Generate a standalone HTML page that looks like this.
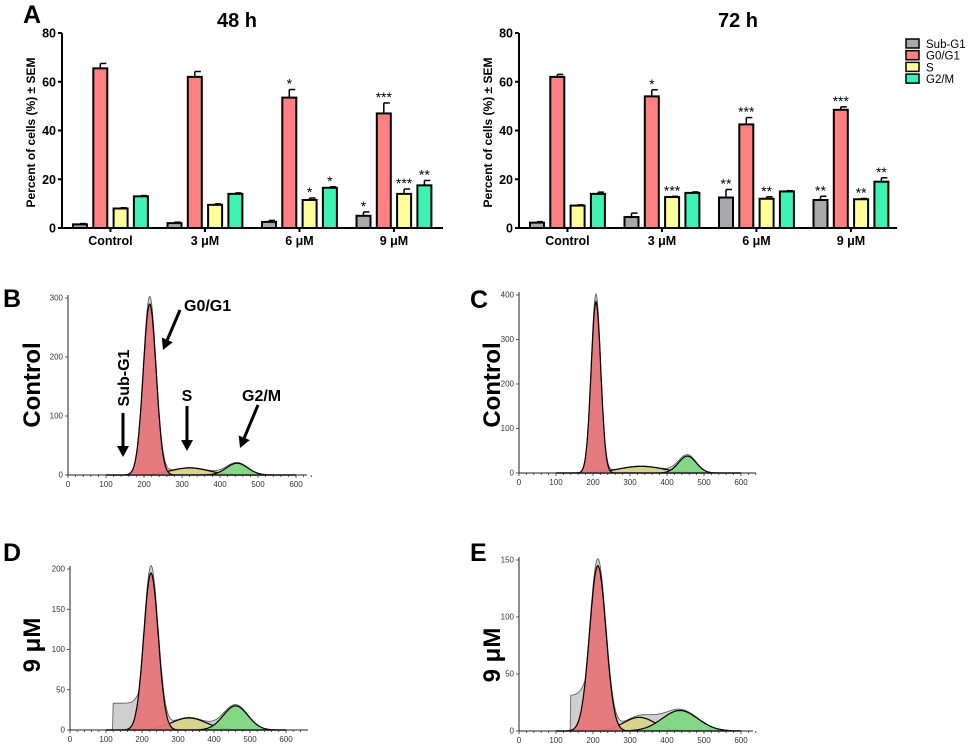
<!DOCTYPE html>
<html><head><meta charset="utf-8"><style>
html,body{margin:0;padding:0;background:#fff}
svg{display:block;font-family:"Liberation Sans",Arial,sans-serif}
</style></head><body>
<svg id="fig" width="969" height="754" viewBox="0 0 969 754">
<g id="root"></g>
</svg>
<script>
// ---------- Bar chart data ----------
const groups = ["Control", "3 μM", "6 μM", "9 μM"];
const phases = ["Sub-G1", "G0/G1", "S", "G2/M"];
const h48SubG1 = [1.5, 2, 2.5, 5];
const h48G0G1 = [65.5, 62, 53.5, 47];
const h48S = [8, 9.5, 11.5, 14];
const h48G2M = [13, 14, 16.5, 17.5];
const h48SubG1Err = [0.3, 0.4, 0.6, 1.6];
const h48G0G1Err = [2, 2.2, 3.3, 4.3];
const h48SErr = [0.3, 0.4, 0.8, 2];
const h48G2MErr = [0.3, 0.4, 0.4, 2];
const h48SubG1Sig = ["", "", "", "*"];
const h48G0G1Sig = ["", "", "*", "***"];
const h48SSig = ["", "", "*", "***"];
const h48G2MSig = ["", "", "*", "**"];
const h72SubG1 = [2.2, 4.5, 12.5, 11.5];
const h72G0G1 = [62, 54, 42.5, 48.5];
const h72S = [9.2, 12.7, 12, 11.8];
const h72G2M = [14, 14.4, 15, 19];
const h72SubG1Err = [0.4, 1.6, 3.3, 1.5];
const h72G0G1Err = [1, 2.7, 2.8, 1.2];
const h72SErr = [0.3, 0.3, 0.8, 0.3];
const h72G2MErr = [0.7, 0.4, 0.3, 1.6];
const h72SubG1Sig = ["", "", "**", "**"];
const h72G0G1Sig = ["", "*", "***", "***"];
const h72SSig = ["", "***", "**", "**"];
const h72G2MSig = ["", "", "", "**"];
const yTicks = [0, 20, 40, 60, 80];

// ---------- Histogram model data (components: center, sd, peak) ----------
const histXTicks = [0, 100, 200, 300, 400, 500, 600];
const bG1 = [215, 17, 290], bS = [320, 50, 12], bG2 = [445, 28, 20];
const cG1 = [208, 13, 385], cS = [330, 60, 15], cG2 = [455, 24, 38];
const dG1 = [225, 20, 195], dS = [330, 48, 15], dG2 = [460, 34, 30];
const eG1 = [213, 22, 145], eS = [325, 42, 12], eG2 = [435, 48, 18];
const bYTicks = [0, 100, 200, 300];
const cYTicks = [0, 100, 200, 300, 400];
const dYTicks = [0, 50, 100, 150, 200];
const eYTicks = [0, 50, 100, 150];
const dSubG1 = [120, 190, 32]; // start, end, level
const eSubG1 = [140, 185, 30];

const NS = "http://www.w3.org/2000/svg";
const root = document.getElementById("root");
function mk(tag, attrs, parent, text) {
  const e = document.createElementNS(NS, tag);
  for (const k in attrs) e.setAttribute(k, attrs[k]);
  if (text !== undefined) e.textContent = text;
  (parent || root).appendChild(e);
  return e;
}
const colors = ["#a9a9ab", "#ff8080", "#ffff99", "#3df2b2"];

function barChart(ox, axisEnd, title, titleX, vals, errs, sigs, nm) {
  const g = mk("g", {}, root);
  
  
  const y0 = 228, yTop = 33;
  const yS = v => y0 - (v / 80) * (y0 - yTop);
  const groupW = 94.5, barW = 14, step = 20.3, firstOff = 11;
  const xBar = (gi, si) => ox + firstOff + gi * groupW + si * step;
  const t = mk("text", {x: titleX, y: 27, "font-size": 20, "font-weight": "bold", "text-anchor": "middle"}, g, title);
  
  
  for (let si = 0; si < 4; si++) for (let gi = 0; gi < 4; gi++) {
    const v = vals[si][gi], e = errs[si][gi];
    const x = xBar(gi, si), yv = yS(v);
    const ln = mk("line", {x1: x + barW / 2, x2: x + barW / 2, y1: yv, y2: yS(v + e), stroke: "#000", "stroke-width": 1.5}, g);
    
    
    const cap = mk("line", {x1: x + barW / 2, x2: x + barW - 1, y1: yS(v + e), y2: yS(v + e), stroke: "#000", "stroke-width": 1.5}, g);
    
    
    const r = mk("rect", {x: x, y: yv, width: barW, height: y0 - yv, fill: colors[si], stroke: "#000", "stroke-width": 2}, g);
    
    
    if (sigs[si][gi]) {
      const st = mk("text", {x: x + barW / 2, y: yS(v + e) + 5, "font-size": 14, "text-anchor": "middle", dy: -6}, g, sigs[si][gi]);
      
      
    }
  }
  const ax = mk("path", {d: `M${ox},${yTop} V${y0} H${axisEnd}`, stroke: "#000", "stroke-width": 2, fill: "none"}, g);
  
  
  yTicks.forEach(v => {
    mk("line", {x1: ox - 4, x2: ox, y1: yS(v), y2: yS(v), stroke: "#000", "stroke-width": 2}, g);
    const tl = mk("text", {x: ox - 6, y: yS(v) + 4.5, "font-size": 12.5, "font-weight": "bold", "text-anchor": "end"}, g, String(v));
    
    
  });
  groups.forEach((gn, gi) => {
    const cx = xBar(gi, 0) + (3 * step + barW) / 2;
    mk("line", {x1: cx, x2: cx, y1: y0, y2: y0 + 4, stroke: "#000", "stroke-width": 2}, g);
    const xl = mk("text", {x: cx, y: y0 + 17, "font-size": 12.5, "font-weight": "bold", "text-anchor": "middle"}, g, gn);
    
    
  });
  const yt = mk("text", {transform: `translate(${ox - 27},${(y0 + yTop) / 2 + 2}) rotate(-90)`, "font-size": 12, "font-weight": "bold", "text-anchor": "middle"}, g, "Percent of cells (%) ± SEM");
  
  
}

barChart(62, 443, "48 h", 237, [h48SubG1, h48G0G1, h48S, h48G2M], [h48SubG1Err, h48G0G1Err, h48SErr, h48G2MErr], [h48SubG1Sig, h48G0G1Sig, h48SSig, h48G2MSig], "bar-chart-48h");
barChart(519, 897, "72 h", 738, [h72SubG1, h72G0G1, h72S, h72G2M], [h72SubG1Err, h72G0G1Err, h72SErr, h72G2MErr], [h72SubG1Sig, h72G0G1Sig, h72SSig, h72G2MSig], "bar-chart-72h");

const lg = mk("g", {}, root);


phases.forEach((p, i) => {
  const y = 39 + i * 11.7;
  const sw = mk("rect", {x: 906, y: y, width: 13, height: 9, fill: colors[i], stroke: "#000", "stroke-width": 1.5}, lg);
  
  
  const tx = mk("text", {x: 926, y: y + 9, "font-size": 11.5}, lg, p);
  
  
});

function gauss(p, x) { return p[2] * Math.exp(-0.5 * ((x - p[0]) / p[1]) ** 2); }
function histogram(nm, x0px, pxPer100, y0px, yTopPx, yMax, axisEnd, yTicksArr, G1, S, G2, sub) {
  const g = mk("g", {}, root);
  
  
  const X = v => x0px + v / 100 * pxPer100;
  const Y = v => y0px - v / yMax * (y0px - yTopPx);
  const xs = [];
  for (let v = 100; v <= 600; v += 2) xs.push(v);
  function area(fn) {
    let d = "";
    xs.forEach((v, i) => { const y = fn(v); d += (i ? "L" : "M") + X(v).toFixed(1) + "," + Y(Math.max(0, y)).toFixed(1); });
    return d + "Z";
  }
  const subFn = v => (sub && v >= sub[0] && v <= sub[1]) ? sub[2] : 0;
  const total = v => Math.max(gauss(G1, v) + gauss(S, v) + gauss(G2, v), subFn(v) + gauss(G1, v) * 0.3);
  const raw = mk("path", {d: area(v => total(v) * 1.04), fill: "#cfcfcf", stroke: "#555", "stroke-width": 0.8}, g);
  
  
  const comps = [[S, "#d9d38c", "s-phase-fit"], [G2, "#7fd77f", "g2m-fit"], [G1, "#e6757a", "g0g1-fit"]];
  comps.forEach(c => {
    const p = mk("path", {d: area(v => gauss(c[0], v)), fill: c[1], "fill-opacity": 0.95, stroke: "#000", "stroke-width": 1.2}, g);
    
    
  });
  const ax = mk("path", {d: `M${X(0)},${yTopPx - 3} V${y0px} H${axisEnd}`, stroke: "#222", "stroke-width": 1, fill: "none"}, g);
  
  
  for (let v = 0; v <= 650; v += 20) mk("line", {x1: X(v), x2: X(v), y1: y0px, y2: y0px + (v % 100 ? 2 : 3), stroke: "#333", "stroke-width": 0.8}, g);
  histXTicks.forEach(v => {
    const t = mk("text", {x: X(v), y: y0px + 12, "font-size": 8, fill: "#333", "text-anchor": "middle"}, g, String(v));
    
    
  });
  yTicksArr.forEach(v => {
    mk("line", {x1: X(0) - 3, x2: X(0), y1: Y(v), y2: Y(v), stroke: "#333", "stroke-width": 0.8}, g);
    const t = mk("text", {x: X(0) - 5, y: Y(v) + 2.5, "font-size": 8, fill: "#333", "text-anchor": "end"}, g, String(v));
    
    
  });
}
histogram("histogram-b-control-48h", 68, 38, 475, 298, 300, 307, bYTicks, bG1, bS, bG2, null);
histogram("histogram-c-control-72h", 519, 37, 473, 295, 400, 756, cYTicks, cG1, cS, cG2, null);
histogram("histogram-d-9um-48h", 70, 36, 730, 569, 200, 308, dYTicks, dG1, dS, dG2, dSubG1);
histogram("histogram-e-9um-72h", 519, 37, 731, 560, 150, 753, eYTicks, eG1, eS, eG2, eSubG1);

function txt(name, attrs, s) {
  const t = mk("text", attrs, root, s);
  
  
}
txt("panel-label-a", {x: 23, y: 23, "font-size": 25, "font-weight": "bold"}, "A");
txt("panel-label-b", {x: 3, y: 307, "font-size": 25, "font-weight": "bold"}, "B");
txt("panel-label-c", {x: 470, y: 308, "font-size": 25, "font-weight": "bold"}, "C");
txt("panel-label-d", {x: 3, y: 561, "font-size": 25, "font-weight": "bold"}, "D");
txt("panel-label-e", {x: 470, y: 561, "font-size": 25, "font-weight": "bold"}, "E");
txt("row-label-control-b", {transform: "translate(40,385) rotate(-90)", "font-size": 24, "font-weight": "bold", "text-anchor": "middle"}, "Control");
txt("row-label-control-c", {transform: "translate(500,385) rotate(-90)", "font-size": 24, "font-weight": "bold", "text-anchor": "middle"}, "Control");
txt("row-label-9um-d", {transform: "translate(40,645) rotate(-90)", "font-size": 24, "font-weight": "bold", "text-anchor": "middle"}, "9 μM");
txt("row-label-9um-e", {transform: "translate(500,655) rotate(-90)", "font-size": 24, "font-weight": "bold", "text-anchor": "middle"}, "9 μM");
txt("annotation-g0g1", {x: 184, y: 311, "font-size": 16, "font-weight": "bold"}, "G0/G1");
txt("annotation-subg1", {transform: "translate(129,378) rotate(-90)", "font-size": 16, "font-weight": "bold", "text-anchor": "middle"}, "Sub-G1");
txt("annotation-s", {x: 187, y: 401, "font-size": 16, "font-weight": "bold", "text-anchor": "middle"}, "S");
txt("annotation-g2m", {x: 242, y: 401, "font-size": 16, "font-weight": "bold"}, "G2/M");
const arrows = [[180, 310, 163, 350], [123, 413, 123, 457], [187, 406, 187, 451], [258, 405, 240, 448]];
arrows.forEach(a => {
  const dx = a[2] - a[0], dy = a[3] - a[1], L = Math.hypot(dx, dy), ux = dx / L, uy = dy / L;
  const bx = a[2] - ux * 11, by = a[3] - uy * 11;
  const l = mk("line", {x1: a[0], y1: a[1], x2: bx, y2: by, stroke: "#000", "stroke-width": 3}, root);
  
  
  const h = mk("polygon", {points: `${a[2]},${a[3]} ${bx - uy * 6},${by + ux * 6} ${bx + uy * 6},${by - ux * 6}`, fill: "#000"}, root);
  
  
});
</script>
</body></html>
